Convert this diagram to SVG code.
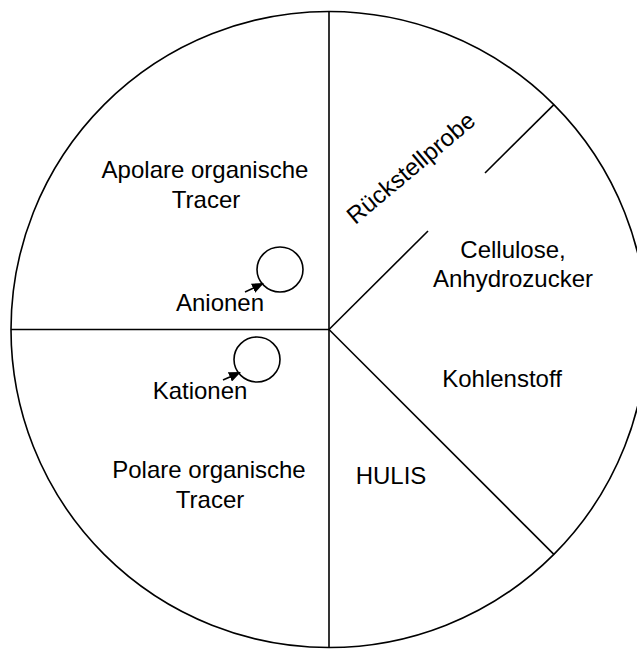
<svg xmlns="http://www.w3.org/2000/svg" width="637" height="649" viewBox="0 0 637 649">
<defs>
<style>
.ln{stroke:#000;stroke-width:1.6;fill:none}
.t{font-family:"Liberation Sans",Arial,sans-serif;font-size:24px;fill:#000;text-anchor:middle}
</style>
<marker id="ah" markerWidth="12" markerHeight="10" refX="11" refY="5" orient="auto" markerUnits="userSpaceOnUse">
<path d="M0,0 L12,5 L0,10 Z" fill="#000"/>
</marker>
</defs>
<rect width="637" height="649" fill="#fff"/>
<g id="pie">
<circle class="ln" cx="329" cy="329.5" r="318"/>
</g>
<g id="connectors">
<line class="ln" x1="329" y1="11.5" x2="329" y2="647.5"/>
<line class="ln" x1="11" y1="329.5" x2="329" y2="329.5"/>
<line class="ln" x1="329" y1="329.5" x2="428" y2="231"/>
<line class="ln" x1="485" y1="173" x2="553.9" y2="104.6"/>
<line class="ln" x1="329" y1="329.5" x2="553.9" y2="554.4"/>
<line class="ln" x1="245" y1="292" x2="263" y2="283.5" marker-end="url(#ah)"/>
<line class="ln" x1="223" y1="380" x2="240" y2="372.5" marker-end="url(#ah)"/>
</g>
<g id="anion-circle"><ellipse class="ln" cx="280" cy="269.5" rx="23" ry="22.5"/></g>
<g id="kation-circle"><ellipse class="ln" cx="257" cy="359.5" rx="23" ry="22.5"/></g>
<g id="apolar"><text class="t" x="205" y="178">Apolare organische</text><text class="t" x="206" y="208">Tracer</text></g>
<g id="anionen"><text class="t" x="220" y="311">Anionen</text></g>
<g id="kationen"><text class="t" x="200" y="399">Kationen</text></g>
<g id="polar"><text class="t" x="209" y="478">Polare organische</text><text class="t" x="210" y="508">Tracer</text></g>
<g id="hulis"><text class="t" x="391" y="484">HULIS</text></g>
<g id="kohlenstoff"><text class="t" x="502" y="387">Kohlenstoff</text></g>
<g id="cellulose"><text class="t" x="513" y="258">Cellulose,</text><text class="t" x="513" y="287">Anhydrozucker</text></g>
<g id="rueckstellprobe"><text class="t" transform="translate(411,168) rotate(-40)" x="0" y="8">Rückstellprobe</text></g>
</svg>
